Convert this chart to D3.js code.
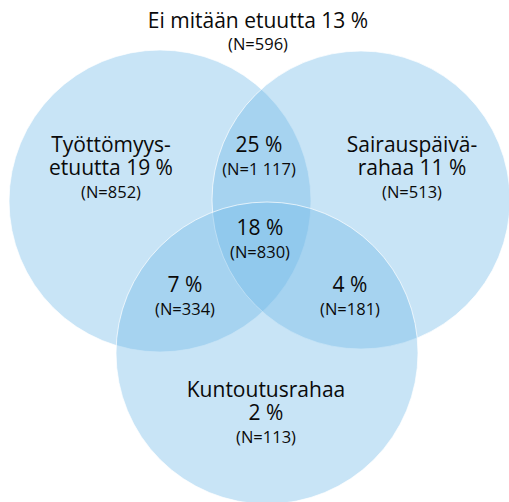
<!DOCTYPE html>
<html>
<head>
<meta charset="utf-8">
<script src="https://cdn.jsdelivr.net/npm/d3@7"></script>
<style>
  html, body { margin: 0; padding: 0; background: #ffffff; }
  svg { display: block; }
</style>
</head>
<body>
<svg></svg>
<script>
// region data
const regionNames = ['Ei mitään etuutta', 'Työttömyys-\netuutta', 'Sairauspäivä-\nrahaa', 'Kuntoutusrahaa',
  '', '', '', ''];
const regionPercents = [13, 19, 11, 2, 25, 7, 4, 18];
const regionCounts = ['596', '852', '513', '113', '1 117', '334', '181', '830'];

// layout (pixels) - circles and label anchors
const circles = [
  { name: 'Työttömyysetuutta', cx: 160, cy: 201, r: 151 },
  { name: 'Sairauspäiväraha', cx: 361, cy: 200, r: 149 },
  { name: 'Kuntoutusraha', cx: 267, cy: 353, r: 151 }
];
const anchors = [[258, 28], [111, 152], [412, 152], [266, 397], [259, 152], [185, 292], [350, 292], [260, 235]];

const width = 509, height = 502;
const lineH = 23;

let svg = d3.select('svg')
  .attr('width', width)
  .attr('height', height);

svg.selectAll('circle')
  .data(circles)
  .enter()
  .append('circle')
  .attr('cx', d => d.cx)
  .attr('cy', d => d.cy)
  .attr('r', d => d.r)
  .style('fill', 'rgb(111,184,231)')
  .style('fill-opacity', 0.38)
  .style('stroke', '#ffffff')
  .style('stroke-opacity', 0.7)
  .style('stroke-width', 1);

regionPercents.forEach(function (p, i) {
  let lines = regionNames[i] === '' ? [] : regionNames[i].split('\n');
  let pct = p + ' %';
  if (i === 0) {
    lines = [lines[0] + ' ' + pct];
  } else if (i === 3) {
    lines.push(pct);
  } else if (lines.length) {
    lines[lines.length - 1] += ' ' + pct;
  } else {
    lines = [pct];
  }

  let g = svg.append('g')
    .attr('transform', 'translate(' + anchors[i][0] + ',' + anchors[i][1] + ')');

  lines.forEach(function (l, j) {
    g.append('text')
      .attr('y', j * lineH)
      .style('font', '21px "Open Sans", sans-serif')
      .style('fill', '#0a0a0a')
      .style('text-anchor', 'middle')
      .text(l);
  });

  g.append('text')
    .attr('y', lines.length * lineH + (i === 0 ? -1 : 0))
    .style('font', '16.5px "Open Sans", sans-serif')
    .style('fill', '#0a0a0a')
    .style('text-anchor', 'middle')
    .text('(N=' + regionCounts[i] + ')');
});
</script>
</body>
</html>
